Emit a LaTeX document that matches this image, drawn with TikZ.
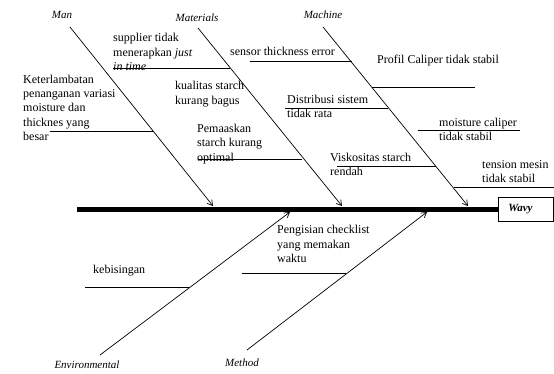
\documentclass[tikz,border=0pt]{standalone}
\usepackage{fontspec}
\setmainfont{Liberation Serif}
\usetikzlibrary{arrows.meta}

\begin{document}
\begin{tikzpicture}[
    x=1pt, y=-1pt,
    >={Straight Barb[length=5pt,width=6pt]},
    bone/.style={->, line width=0.7pt},
    branch/.style={line width=0.7pt},
    cause/.style={anchor=base west, align=left, inner sep=0pt, font=\fontsize{12}{14.3}\selectfont},
    cat/.style={font=\fontsize{11}{13}\selectfont\itshape, inner sep=1pt},
    effect/.style={draw, line width=0.6pt, anchor=west, minimum height=24pt, text width=35pt, inner xsep=10pt, align=left, font=\fontsize{11}{13}\selectfont\bfseries\itshape}
]
\useasboundingbox (0,0) rectangle (554,373);

% Cabeza y espina principal
\node[effect] (wavy) at (498,209) {Wavy};
\coordinate (tail) at (77,209);
\draw[line width=5pt] (tail) -- (wavy.west);

% Categorias (arriba: Man, Materials, Machine; abajo: Environmental, Method)
\node[cat] (man) at (62,15) {Man};
\node[cat] (mat) at (197,18) {Materials};
\node[cat] (mach) at (323,15) {Machine};
\node[cat] (env) at (87,365) {Environmental};
\node[cat] (meth) at (242,363) {Method};

% Espinas hacia la espina principal
\coordinate (man-a) at (70,27);   \coordinate (man-b) at (213,206);
\coordinate (mat-a) at (198,28);  \coordinate (mat-b) at (342,206);
\coordinate (mach-a) at (323,27); \coordinate (mach-b) at (468,206);
\coordinate (env-a) at (100,355); \coordinate (env-b) at (290,212);
\coordinate (meth-a) at (247,350); \coordinate (meth-b) at (427,212);
\draw[bone] (man-a) -- (man-b);
\draw[bone] (mat-a) -- (mat-b);
\draw[bone] (mach-a) -- (mach-b);
\draw[bone] (env-a) -- (env-b);
\draw[bone] (meth-a) -- (meth-b);

% Causas: Man (posicion = linea base de la ultima linea)
\node[cause] (c-supp) at (113,70.5) {supplier tidak\\menerapkan \textit{just}\\\textit{in time}};
\draw[branch] (113,68) -- (230,68);
\node[cause] (c-telat) at (23,140.5) {Keterlambatan\\penanganan variasi\\moisture dan\\thicknes yang\\besar};
\draw[branch] (50,131) -- (153,131);

% Causas: Materials
\node[cause] (c-kual) at (175,104) {kualitas starch\\kurang bagus};
\node[cause] (c-masak) at (197,161) {Pemaaskan\\starch kurang\\optimal};
\draw[branch] (198,159) -- (302,159);

% Causas: Machine
\node[cause] (c-sensor) at (230,55.5) {sensor thickness error};
\draw[branch] (250,61) -- (352,61);
\node[cause] (c-profil) at (377,63.5) {Profil Caliper tidak stabil};
\draw[branch] (372,87) -- (475,87);
\node[cause] (c-distr) at (287,117.5) {Distribusi sistem\\tidak rata};
\draw[branch] (285,108) -- (388,108);
\node[cause] (c-moist) at (439,140.5) {moisture caliper\\tidak stabil};
\draw[branch] (418,130) -- (520,130);
\node[cause] (c-visk) at (330,175.5) {Viskositas starch\\rendah};
\draw[branch] (337,166) -- (436,166);
\node[cause] (c-tens) at (482,182.5) {tension mesin\\tidak stabil};
\draw[branch] (454,187) -- (554,187);

% Causas: Environmental y Method
\node[cause] (c-bising) at (93,273.5) {kebisingan};
\draw[branch] (85,287) -- (189,287);
\node[cause] (c-cek) at (277,262.5) {Pengisian checklist\\yang memakan\\waktu};
\draw[branch] (242,273) -- (346,273);
\end{tikzpicture}
\end{document}
